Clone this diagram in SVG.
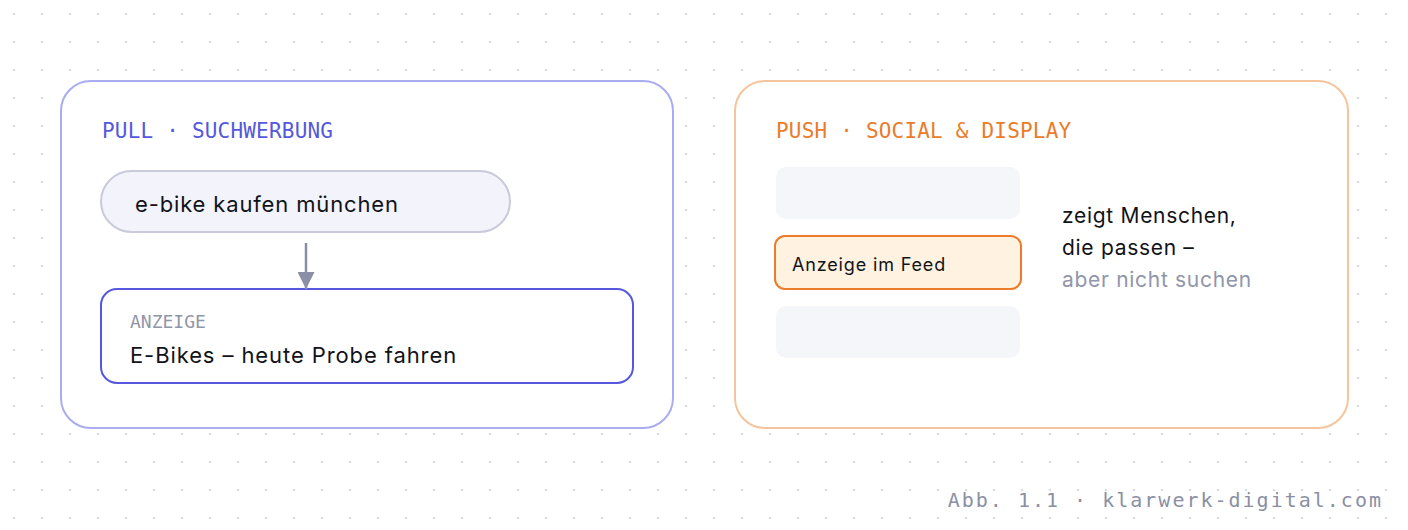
<svg xmlns="http://www.w3.org/2000/svg" width="1408" height="530" viewBox="0 0 1408 530">
  <defs>
    <pattern id="dots" x="0" y="0" width="28" height="28" patternUnits="userSpaceOnUse">
      <circle cx="14" cy="14" r="1.3" fill="#dcdde3"/>
    </pattern>
    <marker id="arrow" markerWidth="17" markerHeight="17" refX="17" refY="8.5" orient="auto" markerUnits="userSpaceOnUse">
      <path d="M0,0 L17,8.5 L0,17 Z" fill="#8a8fa5"/>
    </marker>
    <style>
      .mono { font-family: "DejaVu Sans Mono", "Liberation Mono", monospace; }
      .sans { font-family: Inter, "Liberation Sans", sans-serif; }
      .panel { fill: #ffffff; stroke-width: 2; }
      .ghost { fill: #f5f6fa; }
    </style>
  </defs>
  <rect width="1408" height="530" fill="#ffffff"/>
  <rect width="1408" height="530" fill="url(#dots)"/>

  <g id="pull-panel">
    <rect class="panel" x="61" y="81" width="612" height="347" rx="30" stroke="#a9acf0"/>
    <text class="mono" x="102" y="138" font-size="21" letter-spacing="0.2" fill="#5558dd">PULL · SUCHWERBUNG</text>
  </g>

  <g id="search-query">
    <rect x="101" y="171" width="409" height="61" rx="30.5" fill="#f3f3fc" stroke="#c9cadb" stroke-width="2"/>
    <text class="sans" x="135" y="212" font-size="22" letter-spacing="0.85" fill="#111318">e-bike kaufen münchen</text>
  </g>

  <g id="ad-result">
    <rect x="101" y="289" width="532" height="94" rx="16" fill="#ffffff" stroke="#5558dd" stroke-width="2"/>
    <text class="mono" x="130" y="328" font-size="18" fill="#9096aa">ANZEIGE</text>
    <text class="sans" x="130" y="363" font-size="22" letter-spacing="0.9" fill="#111318">E-Bikes – heute Probe fahren</text>
  </g>

  <g id="push-panel">
    <rect class="panel" x="735" y="81" width="613" height="347" rx="30" stroke="#f5c49c"/>
    <text class="mono" x="776" y="138" font-size="21" letter-spacing="0.2" fill="#ea7c2a">PUSH · SOCIAL &amp; DISPLAY</text>
  </g>

  <g id="feed-item-1">
    <rect class="ghost" x="776" y="167" width="244" height="52" rx="10"/>
  </g>
  <g id="feed-ad">
    <rect x="775" y="236" width="246" height="53" rx="10" fill="#fff2e0" stroke="#ea7c2a" stroke-width="2"/>
    <text class="sans" x="792" y="271" font-size="18" letter-spacing="0.85" fill="#111318">Anzeige im Feed</text>
  </g>
  <g id="feed-item-3">
    <rect class="ghost" x="776" y="306" width="244" height="52" rx="10"/>
  </g>

  <g id="push-note">
    <text class="sans" x="1062" y="223" font-size="21" letter-spacing="0.7" fill="#111318">zeigt Menschen,</text>
    <text class="sans" x="1062" y="255" font-size="21" letter-spacing="0.7" fill="#111318">die passen –</text>
    <text class="sans" x="1062" y="287" font-size="21" letter-spacing="0.7" fill="#9096aa">aber nicht suchen</text>
  </g>

  <g id="connectors">
    <line x1="306" y1="243" x2="306" y2="289" stroke="#8a8fa5" stroke-width="2.5" marker-end="url(#arrow)"/>
  </g>

  <g id="footer">
    <text class="mono" x="1383" y="507" font-size="20" letter-spacing="2" text-anchor="end" fill="#8a8fa5">Abb. 1.1 · klarwerk-digital.com</text>
  </g>
</svg>
